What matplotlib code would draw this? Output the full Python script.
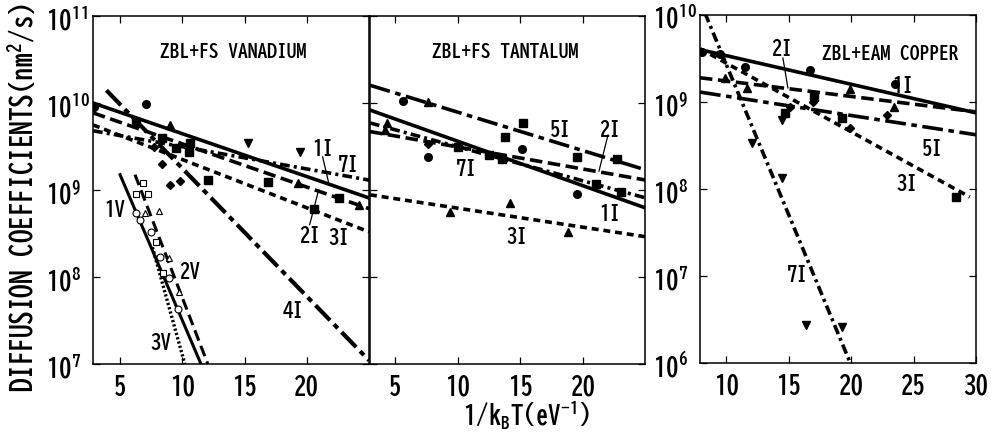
import matplotlib
matplotlib.use("Agg")
import matplotlib.pyplot as plt
from matplotlib.ticker import FixedLocator, NullLocator

plt.rcParams["font.family"] = ["BIZ UDGothic", "DejaVu Sans"]
plt.rcParams["font.weight"] = "bold"
plt.rcParams["mathtext.default"] = "regular"
plt.rcParams["lines.scale_dashes"] = False

# --- vanadium (left panel) ---
V_X = [2.83, 25.0]
V_1I = [1.0e10, 8.1e8]
V_2I = [7.7e9, 6.1e8]
V_3I = [5.6e9, 3.3e8]
V_7I = [4.8e9, 1.3e9]
V_4I_X = [3.9, 25.0]
V_4I = [1.4e10, 1.1e7]
V_1V_X = [5.0, 11.5]
V_1V = [1.5e9, 1.0e7]
V_2V_X = [6.2, 12.05]
V_2V = [1.5e9, 1.0e7]
V_3V_X = [7.6, 10.2]
V_3V = [2.2e8, 1.0e7]

V_CIRC_X = [2.9, 7.1]
V_CIRC_Y = [8.9e9, 9.8e9]
V_TRI_X = [9.0, 19.3, 24.2]
V_TRI_Y = [5.6e9, 1.2e9, 6.8e8]
V_SQ_X = [6.3, 8.4, 9.5, 10.5, 10.6, 12.05, 16.9, 20.6, 22.6]
V_SQ_Y = [5.9e9, 4.0e9, 3.0e9, 2.7e9, 3.5e9, 1.3e9, 1.23e9, 6.0e8, 8.1e8]
V_DIA_X = [7.72, 8.36, 9.0, 9.81]
V_DIA_Y = [3.1e9, 2.0e9, 1.14e9, 1.27e9]
V_DTRI_X = [15.26, 19.43]
V_DTRI_Y = [3.5e9, 2.75e9]
V_OSQ_X = [6.84, 6.28, 7.24, 7.88, 8.44]
V_OSQ_Y = [1.2e9, 9.0e8, 9.0e8, 2.5e8, 1.1e8]
V_OCIRC_X = [6.28, 6.6, 7.48, 8.2, 8.92, 9.65]
V_OCIRC_Y = [5.4e8, 4.5e8, 3.3e8, 1.7e8, 9.8e7, 4.3e7]
V_OTRI_X = [7.0, 8.12, 8.92, 9.73]
V_OTRI_Y = [5.4e8, 5.7e8, 1.65e8, 6.7e7]

# --- tantalum (middle panel) ---
TA_X = [3.0, 25.0]
TA_1I = [8.3e9, 6.2e8]
TA_2I = [4.7e9, 1.3e9]
TA_3I = [8.8e8, 2.9e8]
TA_5I = [1.6e10, 1.7e9]
TA_7I = [5.9e9, 8.1e8]

TA_CIRC_X = [5.63, 7.62, 15.1, 19.5]
TA_CIRC_Y = [1.05e10, 2.4e9, 2.95e9, 9.0e8]
TA_SQ_X = [15.2, 13.77, 19.5, 22.7, 10.0, 12.5, 13.5, 21.0, 23.0]
TA_SQ_Y = [5.9e9, 4.1e9, 2.4e9, 2.3e9, 3.1e9, 2.5e9, 2.3e9, 1.16e9, 9.6e8]
TA_TRI_X = [7.6, 4.36, 4.2, 14.2, 9.4, 18.8]
TA_TRI_Y = [1.02e10, 5.9e9, 4.9e9, 7.1e8, 5.6e8, 3.3e8]
TA_DIA_X = [7.6]
TA_DIA_Y = [3.4e9]

# --- copper (right panel) ---
CU_X = [7.9, 30.0]
CU_1I = [4.0e9, 7.5e8]
CU_2I = [1.9e9, 7.7e8]
CU_5I = [1.3e9, 4.2e8]
CU_3I_X = [7.9, 29.5]
CU_3I = [4.1e9, 8.1e7]
CU_7I_X = [8.3, 20.0]
CU_7I = [1.05e10, 9.5e5]

CU_CIRC_X = [8.06, 9.5, 11.5, 16.7, 23.5]
CU_CIRC_Y = [3.8e9, 3.6e9, 2.5e9, 2.35e9, 1.6e9]
CU_TRI_X = [9.9, 11.7, 19.9, 23.4]
CU_TRI_Y = [1.9e9, 1.45e9, 1.4e9, 8.7e8]
CU_DTRI_X = [14.5, 12.1, 14.5, 16.4, 19.3]
CU_DTRI_Y = [6.2e8, 3.4e8, 1.35e8, 2.75e6, 2.6e6]
CU_SQ_X = [14.7, 19.3, 28.4, 17.0]
CU_SQ_Y = [7.4e8, 6.6e8, 8.1e7, 1.15e9]
CU_DIA_X = [15.1, 16.96, 22.86, 19.9]
CU_DIA_Y = [8.7e8, 1.0e9, 7.1e8, 5.0e8]

# axis ticks
VT_XTICKS = [5, 10, 15, 20]
CU_XTICKS = [10, 15, 20, 25, 30]
VT_YEXP = [7, 8, 9, 10, 11]
CU_YEXP = [6, 7, 8, 9, 10]

SOLID = "-"
DASH = (0, (9, 4))
SHORT = (0, (5, 3.5))
LDASHDOT = (0, (15, 4, 4, 4))
DASHDOT = (0, (7, 3, 2.2, 3))
DOT = (0, (1.6, 1.6))
LW = 2.6

fig = plt.figure(figsize=(9.94, 4.36), dpi=100)
ax1 = fig.add_axes([0.0936, 0.1651, 0.2777, 0.7982])
ax2 = fig.add_axes([0.3722, 0.1651, 0.2767, 0.7982])
ax3 = fig.add_axes([0.7042, 0.1674, 0.2777, 0.7982])


def style_axis(ax, xlim, ylim, xticks, yexp, show_ylabels=True):
    ax.set_yscale("log")
    ax.set_xlim(*xlim)
    ax.set_ylim(*ylim)
    ax.xaxis.set_major_locator(FixedLocator(xticks))
    ax.set_xticklabels([str(t) for t in xticks])
    ax.yaxis.set_major_locator(FixedLocator([10.0**e for e in yexp]))
    ax.yaxis.set_minor_locator(NullLocator())
    ax.set_yticklabels([r"$10^{%d}$" % e for e in yexp])
    ax.tick_params(which="both", direction="in", top=True, right=True,
                   length=5, width=0.9)
    ax.tick_params(axis="x", labelsize=18, pad=7)
    ax.tick_params(axis="y", labelsize=18, pad=34, labelleft=show_ylabels)
    for lab in ax.get_yticklabels():
        lab.set_horizontalalignment("left")
    for sp in ax.spines.values():
        sp.set_linewidth(1.1)


def label(ax, x, y, s):
    ax.text(x, y, s, fontsize=15, ha="center", va="center")


style_axis(ax1, (2.83, 25.0), (1e7, 1e11), VT_XTICKS, VT_YEXP)
style_axis(ax2, (3.0, 24.93), (1e7, 1e11), VT_XTICKS, VT_YEXP, show_ylabels=False)
style_axis(ax3, (7.9, 30.0), (1e6, 1e10), CU_XTICKS, CU_YEXP)

k = dict(color="black", lw=LW)
mk = dict(color="black", ls="none", ms=5.5)
ok = dict(color="black", ls="none", ms=5, mfc="white", mew=0.8)

# vanadium
ax1.plot(V_X, V_1I, ls=SOLID, **k)
ax1.plot(V_X, V_2I, ls=DASH, **k)
ax1.plot(V_X, V_3I, ls=SHORT, **k)
ax1.plot(V_X, V_7I, ls=DASHDOT, **k)
ax1.plot(V_4I_X, V_4I, ls=LDASHDOT, color="black", lw=3.0)
ax1.plot(V_1V_X, V_1V, ls=SOLID, color="black", lw=2.2)
ax1.plot(V_2V_X, V_2V, ls=(0, (8, 4)), color="black", lw=2.2)
ax1.plot(V_3V_X, V_3V, ls=DOT, color="black", lw=2.4)
ax1.plot(V_CIRC_X, V_CIRC_Y, marker="o", **mk)
ax1.plot(V_TRI_X, V_TRI_Y, marker="^", **mk)
ax1.plot(V_SQ_X, V_SQ_Y, marker="s", **mk)
ax1.plot(V_DIA_X, V_DIA_Y, marker="D", color="black", ls="none", ms=4.5)
ax1.plot(V_DTRI_X, V_DTRI_Y, marker="v", **mk)
ax1.plot(V_OSQ_X, V_OSQ_Y, marker="s", **ok)
ax1.plot(V_OCIRC_X, V_OCIRC_Y, marker="o", **ok)
ax1.plot(V_OTRI_X, V_OTRI_Y, marker="^", **ok)
label(ax1, 4.6, 6.2e8, "1V")
label(ax1, 10.6, 1.2e8, "2V")
label(ax1, 8.3, 1.8e7, "3V")
label(ax1, 18.9, 4.2e7, "4I")
label(ax1, 21.3, 3.1e9, "1I")
label(ax1, 23.3, 2.0e9, "7I")
label(ax1, 20.2, 3.1e8, "2I")
label(ax1, 22.6, 2.9e8, "3I")
ax1.plot([21.27, 21.76], [2.4e9, 1.2e9], color="black", lw=0.9)
ax1.plot([20.23, 20.95], [4.0e8, 1.0e9], color="black", lw=0.9)
ax1.text(0.507, 0.90, "ZBL+FS VANADIUM", transform=ax1.transAxes,
         fontsize=14, ha="center", va="center")

# tantalum
ax2.plot(TA_X, TA_1I, ls=SOLID, **k)
ax2.plot(TA_X, TA_2I, ls=DASH, **k)
ax2.plot(TA_X, TA_3I, ls=SHORT, **k)
ax2.plot(TA_X, TA_5I, ls=LDASHDOT, **k)
ax2.plot(TA_X, TA_7I, ls=DASHDOT, **k)
ax2.plot(TA_CIRC_X, TA_CIRC_Y, marker="o", **mk)
ax2.plot(TA_SQ_X, TA_SQ_Y, marker="s", **mk)
ax2.plot(TA_TRI_X, TA_TRI_Y, marker="^", **mk)
ax2.plot(TA_DIA_X, TA_DIA_Y, marker="D", color="black", ls="none", ms=4.5)
label(ax2, 18.15, 5.1e9, "5I")
label(ax2, 22.1, 5.1e9, "2I")
label(ax2, 10.7, 1.8e9, "7I")
label(ax2, 22.1, 5.5e8, "1I")
label(ax2, 14.7, 3.0e8, "3I")
ax2.plot([21.98, 21.26], [4.3e9, 1.65e9], color="black", lw=0.9)
ax2.text(0.49, 0.90, "ZBL+FS TANTALUM", transform=ax2.transAxes,
         fontsize=14, ha="center", va="center")

# copper
ax3.plot(CU_X, CU_1I, ls=SOLID, **k)
ax3.plot(CU_X, CU_2I, ls=DASH, **k)
ax3.plot(CU_X, CU_5I, ls=LDASHDOT, **k)
ax3.plot(CU_3I_X, CU_3I, ls=SHORT, **k)
ax3.plot(CU_7I_X, CU_7I, ls=DASHDOT, **k)
ax3.plot(CU_CIRC_X, CU_CIRC_Y, marker="o", **mk)
ax3.plot(CU_TRI_X, CU_TRI_Y, marker="^", **mk)
ax3.plot(CU_DTRI_X, CU_DTRI_Y, marker="v", **mk)
ax3.plot(CU_SQ_X, CU_SQ_Y, marker="s", **mk)
ax3.plot(CU_DIA_X, CU_DIA_Y, marker="D", color="black", ls="none", ms=4.5)
label(ax3, 14.46, 4.2e9, "2I")
label(ax3, 24.14, 1.6e9, "1I")
label(ax3, 26.5, 3.0e8, "5I")
label(ax3, 24.5, 1.2e8, "3I")
label(ax3, 15.68, 1.07e7, "7I")
ax3.plot([14.54, 14.94], [3.2e9, 1.45e9], color="black", lw=0.9)
ax3.text(0.69, 0.89, "ZBL+EAM COPPER", transform=ax3.transAxes,
         fontsize=14, ha="center", va="center")

fig.text(0.021, 0.548, r"DIFFUSION COEFFICIENTS(nm$^{2}$/s)",
         rotation=90, fontsize=19.5, ha="center", va="center")
fig.text(0.53, 0.048, r"1/k$_{B}$T(eV$^{-1}$)",
         fontsize=18, ha="center", va="center")

fig.savefig("out.png", dpi=100)
